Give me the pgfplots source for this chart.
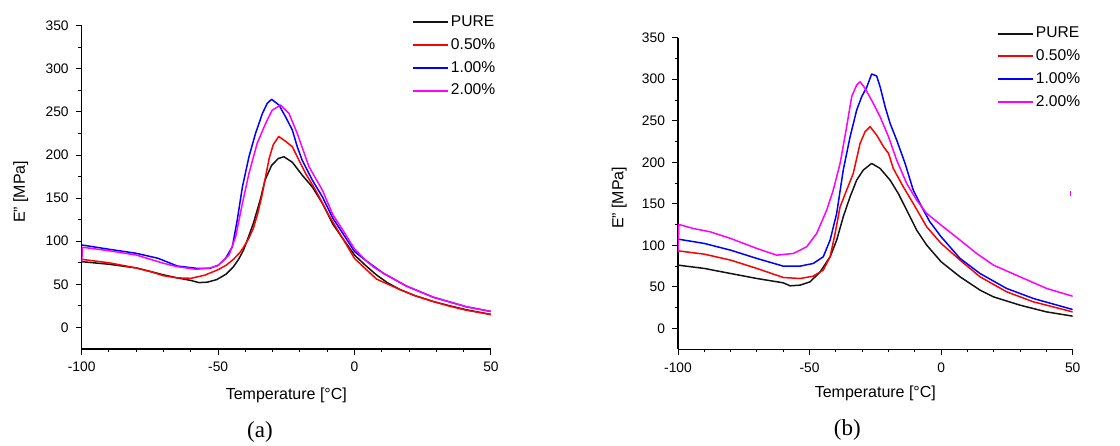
\documentclass[border=0pt]{standalone}
\usepackage{fontspec}
\setmainfont{Liberation Sans}
\newfontfamily\capfont{Liberation Serif}
\usepackage{pgfplots}
\pgfplotsset{compat=1.18}

\definecolor{cBlack}{RGB}{20,20,20}
\definecolor{cRed}{RGB}{255,0,0}
\definecolor{cBlue}{RGB}{0,0,255}
\definecolor{cMag}{RGB}{255,0,255}

\pgfplotsset{
  legend image code/.code={\draw[#1, line width=1pt] (0pt,0pt) -- (17.5pt,0pt);},
  dma/.style={
    scale only axis,
    anchor=south west,
    axis lines=left,
    axis line style={-, line width=0.55pt},
    xmin=-100, xmax=50, ymin=-25, ymax=350,
    xtick={-100,-50,0,50}, minor x tick num=4,
    ytick={0,50,...,350}, minor y tick num=1,
    tick align=outside,
    major tick length=3pt, minor tick length=1.6pt,
    tick style={black, line width=0.5pt},
    ticklabel style={font=\fontsize{6.9}{8}\selectfont},
    /pgf/number format/assume math mode=true,
    xlabel={Temperature [°C]},
    ylabel={E" [MPa]},
    label style={font=\fontsize{8}{9.5}\selectfont},
    legend cell align=left,
    legend style={draw=none, fill=none, anchor=north west, inner sep=0pt,
      row sep=2.5pt, font=\fontsize{7.8}{9}\selectfont,
      nodes={inner sep=1pt}},
    every axis plot/.append style={line width=0.75pt, no markers, line join=round},
  },
}

\begin{document}
\begin{tikzpicture}
\useasboundingbox (0,0) rectangle (560pt,222.5pt);

% (a)
\begin{axis}[dma,
  at={(40.85pt,48pt)}, width=204.65pt, height=161.65pt,
  xlabel style={at={(axis description cs:0.5,-0.142)}, anchor=center},
  ylabel style={at={(axis description cs:-0.149,0.486)}, anchor=center},
  legend style={at={(axis description cs:0.806,1.039)}},
]
\addplot[cBlack] coordinates {
(-100,76.3) (-90,73.3) (-80,69) (-75,65) (-70,61) (-65,57.5) (-60,54.5)
(-57,52) (-54,52.5) (-50.5,55.5) (-47,62) (-44.4,70.4) (-42.5,79)
(-40.7,89.7) (-39,104) (-37.1,120.7) (-34.6,147.7) (-32.8,171) (-30.4,188)
(-27.9,196) (-25.9,198) (-22.8,191.6) (-19.2,176.7) (-15.5,163) (-11.8,144)
(-8,120) (-4.5,104) (0,84) (4,72) (8,61) (12,52) (16.6,44) (22,37)
(28.9,30) (35,25) (41,20.5) (50,15)
};
\addlegendentry{PURE}
\addplot[cRed] coordinates {
(-100,79) (-90,75) (-80,69) (-75,65) (-70,60) (-65,57.5) (-60,57)
(-55,60.5) (-50,67) (-47,72.3) (-44.4,79) (-42,87) (-40.7,93) (-38.8,103)
(-37.1,115) (-35.5,132) (-34,152) (-32.6,175) (-31.3,196) (-29.8,212)
(-27.8,221.5) (-25.3,216) (-22.8,209.6) (-21,198) (-18,179) (-14.3,159.3)
(-9.4,130) (-4.5,104) (0,80) (4,68) (8.1,56) (12,50.5) (16.6,44) (22,37)
(28.9,30) (35,24.5) (41,20) (50,15)
};
\addlegendentry{0.50\%}
\addplot[cBlue] coordinates {
(-100,95.7) (-90,90.7) (-80,86) (-72,80.2) (-65,71.3) (-58,68.6) (-53,68.6)
(-50,72) (-47.3,80) (-44.8,93.5) (-43,124.5) (-41.1,163) (-38.7,198)
(-36.3,225) (-33.8,248) (-32,260) (-30.4,264.6) (-27.7,258) (-25.3,244.4)
(-22.8,229) (-21,209.6) (-19.2,194) (-15.5,171) (-11.8,151.6) (-8,127)
(-4.5,110) (0,88) (4.4,77) (10.5,63) (19,48) (28.9,35) (41,24) (50,18.5)
};
\addlegendentry{1.00\%}
\addplot[cMag] coordinates {
(-100,76) (-99.7,93) (-90,89) (-80,84) (-70,74.4) (-65,70.5) (-58,67.4)
(-53,69) (-50,72) (-46,84) (-43.6,105) (-41.1,144) (-38.7,178.7)
(-35.7,213.5) (-32.6,236.7) (-30.2,252) (-27.1,258) (-24,248) (-21,225)
(-16.7,186.4) (-11.8,159.3) (-8,131) (-4.5,114) (0,91) (4,78) (7,70)
(10.5,63) (19,48) (28.9,35) (41,24) (50,18.5)
};
\addlegendentry{2.00\%}
\end{axis}

% (b)
\begin{axis}[dma,
  at={(339pt,47.85pt)}, width=197.35pt, height=155.8pt,
  xlabel style={at={(axis description cs:0.5,-0.141)}, anchor=center},
  ylabel style={at={(axis description cs:-0.149,0.486)}, anchor=center},
  legend style={at={(axis description cs:0.807,1.043)}},
]
\addplot[cBlack] coordinates {
(-100,76.3) (-90,72.3) (-80,66.2) (-70,60.2) (-60,55) (-57.4,51.4)
(-53.6,52.2) (-49.8,56.2) (-46,68.2) (-42.2,86.3) (-39.7,106.4)
(-37.2,134.5) (-34.6,158.6) (-32.1,178.6) (-29.6,190.7) (-26.4,198.7)
(-23.2,192.7) (-19.4,178.6) (-16.3,162.6) (-13.1,142.5) (-9.3,118.4)
(-5.5,100.4) (0,80.3) (7.2,62.2) (14.8,46.2) (19.9,38.1) (30,28.1)
(40.1,20) (50,14.9)
};
\addlegendentry{PURE}
\addplot[cRed] coordinates {
(-100,93.5) (-90,89.5) (-80,82.3) (-70,72.3) (-60,61.4) (-53.6,60.2)
(-48.6,63) (-44.8,70.3) (-42.2,86.3) (-40.3,114.4) (-38.4,146.5)
(-35.9,166.6) (-33.4,186.7) (-30.8,222.8) (-28.9,236.9) (-27,242.9)
(-24.5,232.8) (-21.9,218.8) (-20,210.8) (-18.2,192.7) (-14.4,170.6)
(-10.6,150.5) (-5.5,122.4) (0,102.4) (7.2,82.3) (14.8,62.2) (24.9,44.2)
(35.1,32.1) (50,20)
};
\addlegendentry{0.50\%}
\addplot[cBlue] coordinates {
(-100,107.6) (-90,102.4) (-80,94.3) (-70,84.3) (-60,75.1) (-53.6,75.1)
(-48.6,78.3) (-44.8,86.3) (-42.2,106.4) (-39.7,138.5) (-37.2,190.7)
(-34.6,230.8) (-32.1,262.9) (-30.2,279) (-28.3,290.2) (-26.4,306.3)
(-24.5,303.9) (-23.2,291) (-21.3,267) (-19.4,246.9) (-16.9,226.8)
(-13.7,198.7) (-10.6,166.6) (-7.4,146.5) (-4.3,128.5) (0,110.4)
(7.2,84.3) (14.8,66.2) (24.9,48.2) (35.1,36.1) (50,22.9)
};
\addlegendentry{1.00\%}
\addplot[cMag] coordinates {
(-100,92) (-99.7,125.3) (-94.2,120.4) (-87.8,116.4) (-80,108.4) (-70,96.3)
(-62.5,88.3) (-56.2,90.3) (-51.1,98.4) (-47.3,114.4) (-43.5,142.5)
(-41,166.6) (-38.4,198.7) (-35.9,242.9) (-34,279) (-32.1,293) (-30.8,297)
(-28.9,289) (-25.8,271) (-23.2,254.9) (-20,230.8) (-16.9,202.7)
(-13.1,174.6) (-9.3,154.6) (-5.5,138.5) (0,124.4) (7.2,106.4) (13.5,90.3)
(19.9,76.3) (30,62.2) (40.1,48.2) (50,38.9)
};
\addlegendentry{2.00\%}
\addplot[cMag, forget plot] coordinates {(49.2,159) (49.2,166)};
\end{axis}

\node[font=\capfont\fontsize{11.5}{12}\selectfont] at (130pt,6.65pt) {(a)};
\node[font=\capfont\fontsize{11.5}{12}\selectfont] at (423.65pt,7.5pt) {(b)};
\end{tikzpicture}
\end{document}
